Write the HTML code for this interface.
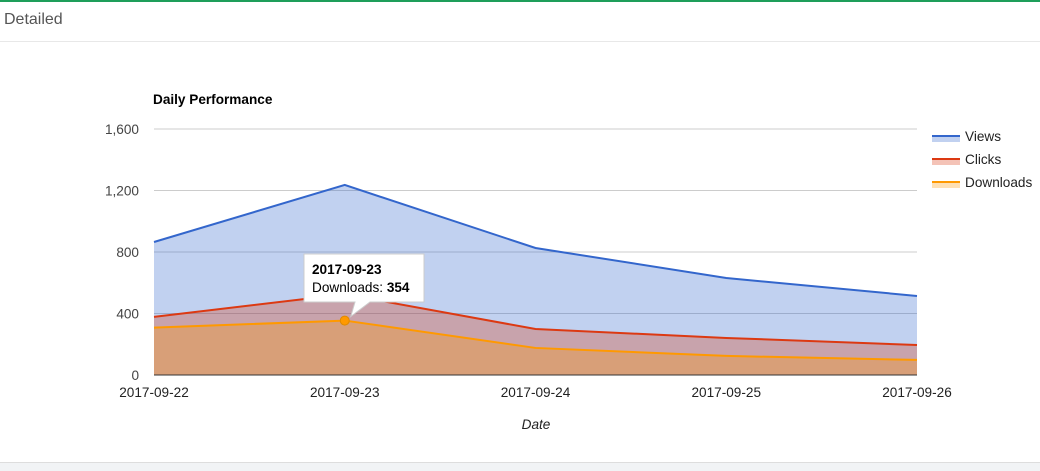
<!DOCTYPE html>
<html><head><meta charset="utf-8"><style>
body{margin:0;width:1040px;height:470px;overflow:hidden;background:#fff;font-family:"Liberation Sans",Arial,sans-serif;}
#topbar{position:absolute;left:0;top:0;width:1040px;height:2px;background:#1e9e5a;}
#hdr{position:absolute;left:0;top:2px;width:1040px;height:39px;border-bottom:1px solid #e8e8e8;}
#hdr span{position:absolute;left:4px;top:9px;font-size:16px;color:#555;}
#foot{position:absolute;left:0;top:462px;width:1040px;height:8px;background:#f1f3f5;border-top:1px solid #ddd;}
svg{position:absolute;left:0;top:0;}
</style></head><body>
<div id="topbar"></div>
<div id="hdr"><span>Detailed</span></div>
<div id="foot"></div>
<svg id="chart" width="1040" height="470"></svg>
<script>
const categories=["2017-09-22","2017-09-23","2017-09-24","2017-09-25","2017-09-26"];
const views=[865,1236,826,631,514];
const clicks=[378,525,299,241,195];
const downloads=[308,354,176,124,98];
const yTicks=[0,400,800,1200,1600];
const yTickLabels=["0","400","800","1,200","1,600"];
const seriesNames=["Views","Clicks","Downloads"];
const tooltipIndex=1;

const NS="http://www.w3.org/2000/svg";
const svg=document.getElementById('chart');
const x0=154,x1=917,yb=375,yt=129;
const FS=13.6;
const xs=i=>x0+(x1-x0)*i/(categories.length-1);
const ys=v=>yb-(yb-yt)*v/1600;
function mk(t,a,p){const e=document.createElementNS(NS,t);for(const k in a)e.setAttribute(k,a[k]);(p||svg).appendChild(e);return e;}

const title=mk('text',{x:153,y:104,'font-size':13.6,'font-weight':'bold',fill:'#000'});title.textContent="Daily Performance";



yTicks.forEach((t,i)=>{
  const g=mk('line',{x1:x0,x2:x1,y1:ys(t),y2:ys(t),stroke:'#ccc','stroke-width':1});
  
  
  const l=mk('text',{x:139,y:ys(t)+5,'font-size':FS,fill:'#444','text-anchor':'end'});l.textContent=yTickLabels[i];
  
  
});

const cols=[["#3366cc","rgba(51,102,204,0.3)"],["#dc3912","rgba(220,57,18,0.3)"],["#ff9900","rgba(255,153,0,0.3)"]];
const data=[views,clicks,downloads];
data.forEach((s,k)=>{
  const pts=s.map((v,i)=>xs(i)+','+ys(v)).join(' ');
  const a=mk('polygon',{points:x0+','+yb+' '+pts+' '+x1+','+yb,fill:cols[k][1]});
  
  
});
data.forEach((s,k)=>{
  const pts=s.map((v,i)=>xs(i)+','+ys(v)).join(' ');
  const l=mk('polyline',{points:pts,fill:'none',stroke:cols[k][0],'stroke-width':2});
  
  
});
const ax=mk('line',{x1:x0,x2:x1,y1:yb,y2:yb,stroke:'#333','stroke-width':1});



categories.forEach((c,i)=>{
  const t=mk('text',{x:xs(i),y:397,'font-size':FS,fill:'#222','text-anchor':'middle'});t.textContent=c;
  
  
});
const xt=mk('text',{x:536,y:429,'font-size':FS,fill:'#222','font-style':'italic','text-anchor':'middle'});xt.textContent="Date";



seriesNames.forEach((n,k)=>{
  const g=mk('g',{});
  
  
  const y=136+k*23;
  mk('rect',{x:932,y:y,width:28,height:6,fill:cols[k][1]},g);
  mk('line',{x1:932,x2:960,y1:y,y2:y,stroke:cols[k][0],'stroke-width':2},g);
  const t=mk('text',{x:965,y:y+5,'font-size':FS,fill:'#222'},g);t.textContent=n;
});

const px=xs(tooltipIndex),py=ys(downloads[tooltipIndex]);
const tg=mk('g',{});


mk('path',{d:`M304 254 H424 V302 H370 L${px+6} ${py-4} L355 302 H304 Z`,fill:'#fff',stroke:'#ccc','stroke-width':1},tg);
const t1=mk('text',{x:312,y:274,'font-size':FS,'font-weight':'bold',fill:'#000'},tg);t1.textContent=categories[tooltipIndex];
const t2=mk('text',{x:312,y:292,'font-size':FS,fill:'#000'},tg);
t2.innerHTML='Downloads: <tspan font-weight="bold">'+downloads[tooltipIndex]+'</tspan>';
const dot=mk('circle',{cx:px,cy:py,r:4.5,fill:'#ff9900',stroke:'#e08a00','stroke-width':1});


</script>
</body></html>
